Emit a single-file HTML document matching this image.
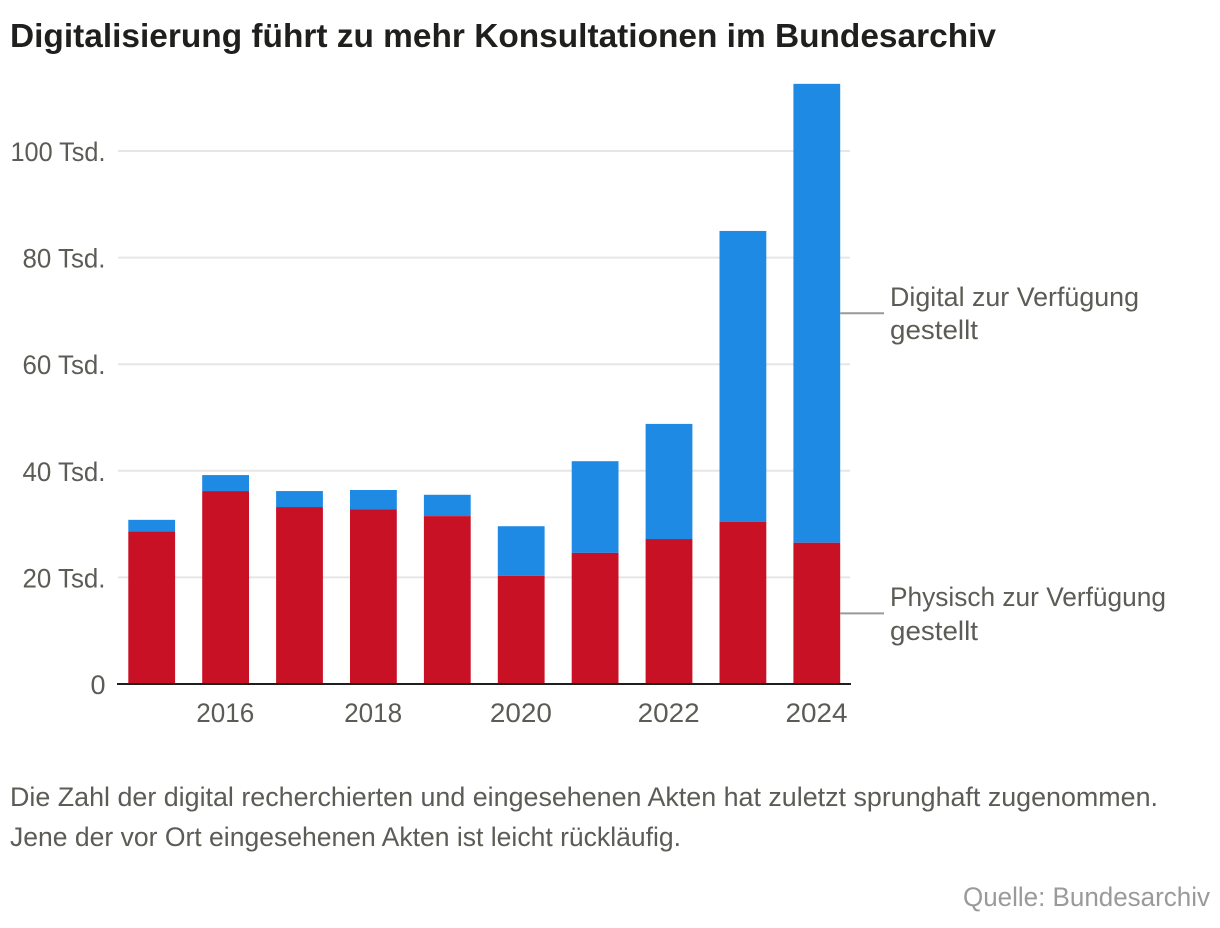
<!DOCTYPE html>
<html lang="de">
<head>
<meta charset="utf-8">
<title>Digitalisierung führt zu mehr Konsultationen im Bundesarchiv</title>
<style>
  html, body { margin: 0; padding: 0; background: #fff; }
  svg { display: block; font-family: "Liberation Sans", sans-serif; }
  .lbl { font-size: 27px; fill: #5c5c56; }
  .note { font-size: 27px; fill: #5c5c56; }
  .src { font-size: 27px; fill: #9a9a9a; }
  .title { font-size: 33px; font-weight: 700; fill: #1f1f1d; }
</style>
</head>
<body>
<svg id="chart" width="1220" height="928" viewBox="0 0 1220 928" xmlns="http://www.w3.org/2000/svg">
  <text class="title" x="10" y="47" textLength="986" lengthAdjust="spacingAndGlyphs">Digitalisierung führt zu mehr Konsultationen im Bundesarchiv</text>
  <g id="grid"></g>
  <g id="bars"></g>
  <g id="axes"></g>
  <g id="annotations">
    <text class="lbl" x="890" y="306" textLength="249" lengthAdjust="spacingAndGlyphs">Digital zur Verfügung</text>
    <text class="lbl" x="890" y="339" textLength="88" lengthAdjust="spacingAndGlyphs">gestellt</text>
    <text class="lbl" x="890" y="606" textLength="276" lengthAdjust="spacingAndGlyphs">Physisch zur Verfügung</text>
    <text class="lbl" x="890" y="640" textLength="88" lengthAdjust="spacingAndGlyphs">gestellt</text>
  </g>
  <text class="note" x="10" y="806" textLength="1148" lengthAdjust="spacingAndGlyphs">Die Zahl der digital recherchierten und eingesehenen Akten hat zuletzt sprunghaft zugenommen.</text>
  <text class="note" x="10" y="846" textLength="671" lengthAdjust="spacingAndGlyphs">Jene der vor Ort eingesehenen Akten ist leicht rückläufig.</text>
  <text class="src" x="963" y="906" textLength="247" lengthAdjust="spacingAndGlyphs">Quelle: Bundesarchiv</text>
</svg>
<script>
const years = [2015, 2016, 2017, 2018, 2019, 2020, 2021, 2022, 2023, 2024];
const physical = [28.6, 36.2, 33.2, 32.8, 31.5, 20.3, 24.6, 27.2, 30.4, 26.5];
const digital = [2.2, 3.0, 3.0, 3.6, 4.0, 9.3, 17.2, 21.6, 54.6, 86.1];
const yTicks = [20, 40, 60, 80, 100];
const yTickLabels = ['20 Tsd.', '40 Tsd.', '60 Tsd.', '80 Tsd.', '100 Tsd.'];
const xTicks = [2016, 2018, 2020, 2022, 2024];

const NS = 'http://www.w3.org/2000/svg';
const plotLeft = 117, plotRight = 851;
const baseY = 684, pxPerUnit = 5.33;
const firstCenter = 151.7, yearStep = 73.9, barWidth = 46.8;

function yScale(v) { return baseY - v * pxPerUnit; }
function xScale(year) { return firstCenter + (year - years[0]) * yearStep; }
function make(tag, attrs, parent) {
  const el = document.createElementNS(NS, tag);
  for (const k in attrs) el.setAttribute(k, attrs[k]);
  parent.appendChild(el);
  return el;
}

const gridG = document.getElementById('grid');
const barsG = document.getElementById('bars');
const axesG = document.getElementById('axes');
const annG = document.getElementById('annotations');

yTicks.forEach(function (t, i) {
  const y = yScale(t);
  const line = make('line', { x1: plotLeft + 1, x2: plotRight - 1, y1: y, y2: y, stroke: '#e6e6e6', 'stroke-width': 2 }, gridG);
  
  
  const label = make('text', { x: 105.5, y: y + 10, 'text-anchor': 'end', class: 'lbl', textLength: 12 * yTickLabels[i].length - 1, lengthAdjust: 'spacingAndGlyphs' }, axesG);
  
  
  label.textContent = yTickLabels[i];
});

const zeroLabel = make('text', { x: 105.5, y: yScale(0) + 10, 'text-anchor': 'end', class: 'lbl' }, axesG);


zeroLabel.textContent = '0';

years.forEach(function (year, i) {
  const x = xScale(year) - barWidth / 2;
  const physTop = yScale(physical[i]);
  const digTop = yScale(physical[i] + digital[i]);
  const digBar = make('rect', { x: x, y: digTop, width: barWidth, height: physTop - digTop, fill: '#1e8ae4' }, barsG);
  
  
  const physBar = make('rect', { x: x, y: physTop, width: barWidth, height: baseY - physTop, fill: '#c91126' }, barsG);
  
  
});

const axisLine = make('line', { x1: plotLeft, x2: plotRight, y1: baseY, y2: baseY, stroke: '#1f1f1d', 'stroke-width': 2 }, axesG);



xTicks.forEach(function (t) {
  const label = make('text', { x: xScale(t) - 0.3, y: 722, 'text-anchor': 'middle', class: 'lbl', textLength: String(t).indexOf('1') >= 0 ? 58 : 62, lengthAdjust: 'spacingAndGlyphs' }, axesG);
  
  
  label.textContent = String(t);
});

const lastIndex = years.length - 1;
const connectorStart = xScale(years[lastIndex]) + barWidth / 2;
const digitalMidY = yScale(physical[lastIndex] + digital[lastIndex] / 2);
const physicalMidY = yScale(physical[lastIndex] / 2);

const digitalConnector = make('line', { x1: connectorStart, x2: 884, y1: digitalMidY, y2: digitalMidY, stroke: '#999', 'stroke-width': 2 }, annG);



const physicalConnector = make('line', { x1: connectorStart, x2: 884, y1: physicalMidY, y2: physicalMidY, stroke: '#999', 'stroke-width': 2 }, annG);


</script>
</body>
</html>
